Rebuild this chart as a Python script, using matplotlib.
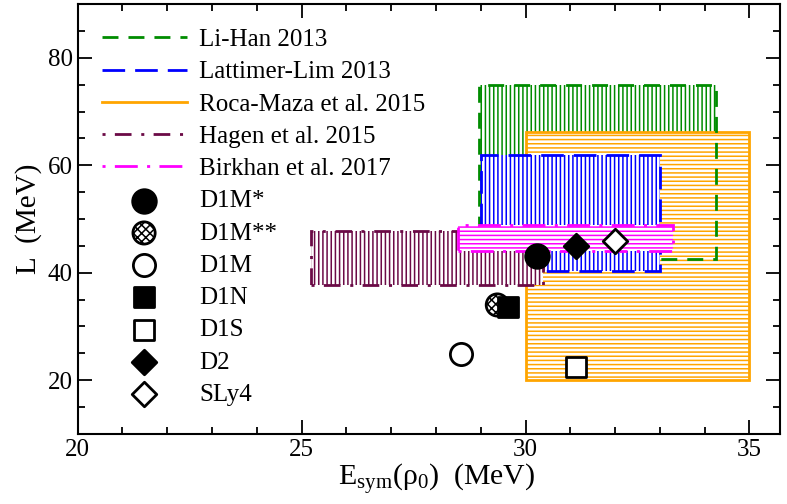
import matplotlib
matplotlib.use("Agg")
import matplotlib.pyplot as plt
from matplotlib.patches import Rectangle
from matplotlib.lines import Line2D
from matplotlib.ticker import MultipleLocator

plt.rcParams['font.family'] = ['Liberation Serif', 'DejaVu Serif']
plt.rcParams['mathtext.fontset'] = 'custom'
plt.rcParams['mathtext.rm'] = 'Liberation Serif'
plt.rcParams['mathtext.it'] = 'Liberation Serif:italic'
plt.rcParams['lines.scale_dashes'] = False
plt.rcParams['hatch.linewidth'] = 1.1

# ---- data ----
band_names = ["Li-Han 2013", "Lattimer-Lim 2013", "Roca-Maza et al. 2015",
              "Hagen et al. 2015", "Birkhan et al. 2017"]
band_esym_lo = [28.95, 29.0, 30.0, 25.2, 28.5]
band_esym_hi = [34.25, 33.0, 35.0, 30.4, 33.3]
band_L_lo = [42.6, 40.4, 20.0, 37.8, 44.0]
band_L_hi = [75.0, 62.0, 66.2, 47.7, 48.8]

model_names = ["D1M*", "D1M**", "D1M", "D1N", "D1S", "D2", "SLy4"]
model_esym = [30.25, 29.37, 28.55, 29.6, 31.13, 31.13, 32.0]
model_L = [43.2, 34.0, 24.9, 33.7, 22.5, 45.0, 45.9]

# ---- styles ----
band_colors = ["#008c00", "#0000ff", "#ffa500", "#6b0a46", "#ff00ff"]
band_hatch = ["||||", "||||", "----", "||||", "----"]
band_dash = [(0, (11.5, 7.2)), (0, (16.3, 7.2)), "solid",
             (0, (2.2, 6.7, 12.0, 7.0)), (0, (2.2, 6.7, 16.5, 6.7))]
fill_z = [1, 3, 2, 4, 5]
edge_z = [2.5, 3.1, 2.1, 4.1, 5.1]

m_marker = ["o", "o", "o", "s", "s", "D", "D"]
m_face = ["black", "white", "white", "black", "white", "black", "white"]
m_hatch = [None, "xxxx", None, None, None, None, None]
m_size = [17, 16, 16, 14, 14, 12.5, 12.5]

fig = plt.figure(figsize=(7.87, 5.04), dpi=100)
ax = fig.add_axes([0.0987, 0.139, 0.8923, 0.853])

handles = []
for i, name in enumerate(band_names):
    x0, x1 = band_esym_lo[i], band_esym_hi[i]
    y0, y1 = band_L_lo[i], band_L_hi[i]
    ax.add_patch(Rectangle((x0, y0), x1 - x0, y1 - y0, facecolor="white",
                           edgecolor=band_colors[i], hatch=band_hatch[i],
                           lw=0, zorder=fill_z[i]))
    ax.add_patch(Rectangle((x0, y0), x1 - x0, y1 - y0, fill=False,
                           edgecolor=band_colors[i], lw=2.0,
                           linestyle=band_dash[i], zorder=edge_z[i]))
    handles.append(Line2D([], [], color=band_colors[i], lw=2.0,
                          linestyle=band_dash[i], label=name))

for i, name in enumerate(model_names):
    sc = ax.scatter([model_esym[i]], [model_L[i]], marker=m_marker[i],
                    s=m_size[i] ** 2, facecolors=m_face[i], edgecolors="black",
                    linewidths=2.0, hatch=m_hatch[i], zorder=10, label=name)
    handles.append(sc)

ax.set_xlim(20, 35.68)
ax.set_ylim(10, 90)
ax.xaxis.set_major_locator(MultipleLocator(5))
ax.xaxis.set_minor_locator(MultipleLocator(1))
ax.yaxis.set_major_locator(MultipleLocator(20))
ax.yaxis.set_minor_locator(MultipleLocator(5))
ax.tick_params(which="both", direction="in", top=True, right=True,
               labelsize=18, width=1.3)
ax.tick_params(which="major", length=10)
ax.tick_params(which="minor", length=5)
for sp in ax.spines.values():
    sp.set_linewidth(1.5)

ax.set_xlabel("E$_{\\mathrm{sym}}$(ρ$_0$)  (MeV)", fontsize=21.5, labelpad=1)
ax.xaxis.label.set_x(0.511)
ax.set_ylabel("L  (MeV)", fontsize=21, labelpad=4)

leg = ax.legend(handles=handles, loc="upper left",
                bbox_to_anchor=(0.034, 0.943), frameon=False, fontsize=18,
                handlelength=3.4, handletextpad=0.5, labelspacing=0.39,
                borderpad=0, borderaxespad=0, scatterpoints=1)

fig.savefig("out.png", dpi=100)
